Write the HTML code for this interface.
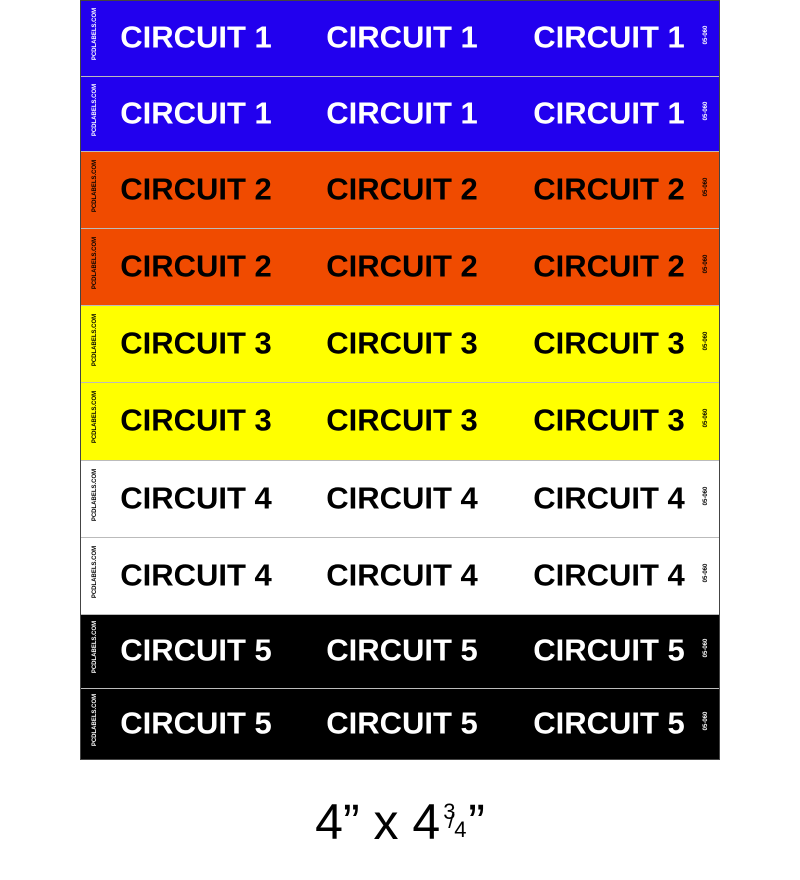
<!DOCTYPE html>
<html><head><meta charset="utf-8"><style>
body{margin:0;width:800px;height:880px;background:#fff;position:relative;overflow:hidden;font-family:"Liberation Sans",sans-serif}
.panel{position:absolute;left:80px;top:0;width:638px;height:758px;border:1px solid #444;}
.row{position:absolute;left:0;width:638px;}
.t{position:absolute;font-weight:bold;font-size:31px;line-height:1;white-space:nowrap;transform:translate(-50%,-50%);}
.l{position:absolute;font-weight:bold;font-size:6px;white-space:nowrap;transform:translate(-50%,-50%) rotate(-90deg);}
.r{position:absolute;font-weight:bold;font-size:6px;white-space:nowrap;transform:translate(-50%,-50%) rotate(-90deg);}
.dim{position:absolute;left:0;width:800px;top:792px;text-align:center;font-size:50px;line-height:60px}
.fr{display:inline-block;position:relative;width:26px;height:40px;vertical-align:-2px;margin-left:2px}
.fr span{position:absolute;font-size:22px;line-height:1}
</style></head><body>
<div class="panel" id="p"></div>
<div class="dim">4” x 4<span class="fr"><span style="left:1px;top:0">3</span><span style="left:6px;top:9px">/</span><span style="left:12px;top:18px">4</span></span>”</div>
<script>
var b=[0,75,150,227,304,381,459,536,613,687,758];
var c=[["#2200ee","#fff","1"],["#2200ee","#fff","1"],["#f04b00","#000","2"],["#f04b00","#000","2"],["#ffff00","#000","3"],["#ffff00","#000","3"],["#ffffff","#000","4"],["#ffffff","#000","4"],["#000","#fff","5"],["#000","#fff","5"]];
var h="";
for(var i=0;i<10;i++){var t=b[i],hh=b[i+1]-t,m=hh/2;
h+='<div class="row" style="top:'+t+'px;height:'+hh+'px;background:'+c[i][0]+';color:'+c[i][1]+';'+(i>0?'border-top:1px solid #bbb;box-sizing:border-box;':'')+'">';
[115,321,528].forEach(function(x){h+='<div class="t" style="left:'+x+'px;top:'+(m-2)+'px">CIRCUIT '+c[i][2]+'</div>';});
h+='<div class="l" style="left:14px;top:'+(m-5)+'px">PCDLABELS.COM</div>';
h+='<div class="r" style="left:625px;top:'+(m-4)+'px">05-060</div></div>';}
document.getElementById('p').innerHTML=h;
</script>
</body></html>
